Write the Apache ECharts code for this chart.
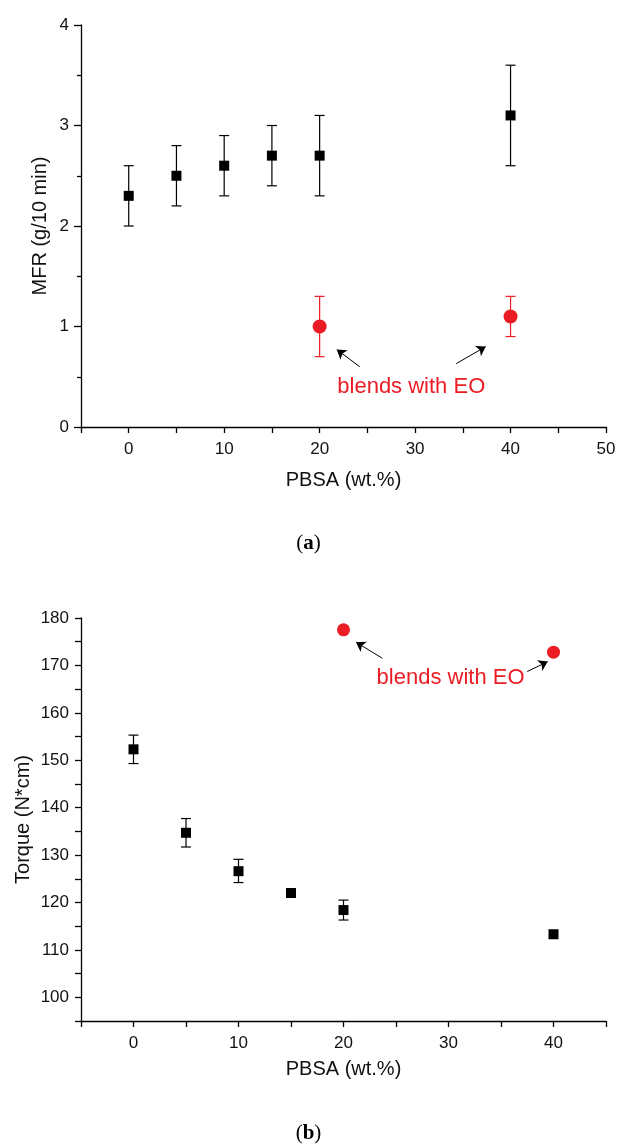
<!DOCTYPE html>
<html>
<head>
<meta charset="utf-8">
<script src="https://cdn.jsdelivr.net/npm/echarts@6/dist/echarts.min.js"></script>
<style>
html, body { margin: 0; padding: 0; background: #fff; }
#main { width: 617px; height: 1145px; }
</style>
</head>
<body>
<div id="main"></div>
<script>
// (a) MFR vs PBSA content
var mfrX = [0, 5, 10, 15, 20, 40];
var mfrY = [2.3, 2.5, 2.6, 2.7, 2.7, 3.1];
var mfrLow = [2.0, 2.2, 2.3, 2.4, 2.3, 2.6];
var mfrHigh = [2.6, 2.8, 2.9, 3.0, 3.1, 3.6];
var mfrEoX = [20, 40];
var mfrEoY = [1.0, 1.1];
var mfrEoLow = [0.7, 0.9];
var mfrEoHigh = [1.3, 1.3];

// (b) torque vs PBSA content
var tqX = [0, 5, 10, 15, 20, 40];
var tqY = [152.3, 134.7, 126.6, 122.0, 118.4, 113.3];
var tqLow = [149.3, 131.7, 124.2, 122.0, 116.3, 113.3];
var tqHigh = [155.3, 137.7, 129.1, 122.0, 120.5, 113.3];
var tqEoX = [20, 40];
var tqEoY = [177.5, 172.8];

// annotations (data coords)
var noteText = 'blends with EO';
var mfrNote = [29.6, 0.4];
var mfrArrows = [[[24.2, 0.60], [21.8, 0.77]], [[34.3, 0.63], [37.4, 0.80]]];
var tqNote = [30.2, 167.4];
var tqArrows = [[[23.7, 171.5], [21.2, 174.9]], [[37.5, 168.7], [39.45, 170.8]]];

var RED = '#ec1c24';
var FONT = 'Liberation Sans, Arial, sans-serif';

function pairs(xs, ys) {
    return xs.map(function(x, i) { return [x, ys[i]]; });
}

function errorBars(xs, lo, hi, color, idx) {
    var data = xs.map(function(x, i) { return [x, lo[i], hi[i]]; });
    return {
        type: 'custom',
        xAxisIndex: idx,
        yAxisIndex: idx,
        silent: true,
        z: 1,
        encode: { x: 0, y: [1, 2] },
        data: data,
        renderItem: function(params, api) {
            if (api.value(1) === api.value(2)) return;
            var x = api.value(0);
            var a = api.coord([x, api.value(1)]);
            var b = api.coord([x, api.value(2)]);
            var w = 5;
            var st = { stroke: color, lineWidth: 1.2 };
            return {
                type: 'group',
                children: [
                    { type: 'line', shape: { x1: a[0], y1: a[1], x2: b[0], y2: b[1] }, style: st },
                    { type: 'line', shape: { x1: a[0] - w, y1: a[1], x2: a[0] + w, y2: a[1] }, style: st },
                    { type: 'line', shape: { x1: b[0] - w, y1: b[1], x2: b[0] + w, y2: b[1] }, style: st }
                ]
            };
        }
    };
}

function arrows(list) {
    return {
        silent: true,
        animation: false,
        symbol: ['none', 'arrow'],
        symbolSize: 9,
        label: { show: false },
        emphasis: { disabled: true },
        lineStyle: { color: '#000', width: 1, type: 'solid', opacity: 1 },
        itemStyle: { color: '#000' },
        data: list.map(function(seg) {
            return [{ coord: seg[0] }, { coord: seg[1] }];
        })
    };
}

function note(pos) {
    return {
        silent: true,
        animation: false,
        symbol: 'circle',
        symbolSize: 0,
        label: {
            show: true,
            position: 'inside',
            formatter: noteText,
            color: RED,
            fontSize: 22,
            fontFamily: FONT
        },
        data: [{ coord: pos }]
    };
}

function xAxis(idx, max, gap) {
    return {
        gridIndex: idx,
        type: 'value',
        min: -5,
        max: max,
        interval: 5,
        name: 'PBSA (wt.%)',
        nameLocation: 'middle',
        nameGap: gap,
        nameMoveOverlap: false,
        nameTextStyle: { color: '#111', fontSize: 20, fontFamily: FONT },
        axisLine: { show: true, onZero: false, lineStyle: { color: '#000', width: 1.3 } },
        axisTick: { show: true, length: 6, lineStyle: { color: '#000', width: 1.3 } },
        axisLabel: {
            color: '#111', fontSize: 17, fontFamily: FONT, margin: 14,
            formatter: function(v) { return v % 10 === 0 ? String(v) : ''; }
        },
        splitLine: { show: false }
    };
}

function caption(letter, top) {
    return {
        type: 'text', left: 'center', top: top,
        style: {
            text: '{n|(}{b|' + letter + '}{n|)}',
            rich: {
                n: { fontFamily: 'Liberation Serif, serif', fontSize: 21, fill: '#000' },
                b: { fontFamily: 'Liberation Serif, serif', fontSize: 21, fontWeight: 'bold', fill: '#000' }
            }
        }
    };
}

var chart = echarts.init(document.getElementById('main'));
chart.setOption({
    animation: false,
    backgroundColor: '#fff',
    textStyle: { fontFamily: FONT },
    grid: [
        { left: 81, right: 11, top: 25, height: 402, outerBoundsMode: 'none' },
        { left: 81, right: 11, top: 618, height: 403, outerBoundsMode: 'none' }
    ],
    xAxis: [xAxis(0, 50, 43), xAxis(1, 45, 38)],
    yAxis: [
        {
            gridIndex: 0,
            type: 'value',
            min: 0,
            max: 4,
            interval: 1,
            name: 'MFR (g/10 min)',
            nameLocation: 'middle',
            nameGap: 31,
            nameMoveOverlap: false,
            nameTextStyle: { color: '#111', fontSize: 20, fontFamily: FONT },
            axisLine: { show: true, onZero: false, lineStyle: { color: '#000', width: 1.3 } },
            axisTick: { show: true, length: 7, lineStyle: { color: '#000', width: 1.3 } },
            minorTick: { show: true, splitNumber: 2, length: 4, lineStyle: { color: '#000', width: 1.3 } },
            axisLabel: { color: '#111', fontSize: 17, fontFamily: FONT, margin: 12 },
            splitLine: { show: false },
            minorSplitLine: { show: false }
        },
        {
            gridIndex: 1,
            type: 'value',
            min: 95,
            max: 180,
            interval: 5,
            name: 'Torque (N*cm)',
            nameLocation: 'middle',
            nameGap: 48,
            nameMoveOverlap: false,
            nameTextStyle: { color: '#111', fontSize: 20, fontFamily: FONT },
            axisLine: { show: true, onZero: false, lineStyle: { color: '#000', width: 1.3 } },
            axisTick: { show: true, length: 6, lineStyle: { color: '#000', width: 1.3 } },
            axisLabel: {
                color: '#111', fontSize: 17, fontFamily: FONT, margin: 12,
                formatter: function(v) { return v % 10 === 0 ? String(v) : ''; }
            },
            splitLine: { show: false }
        }
    ],
    graphic: [caption('a', 533), caption('b', 1123)],
    series: [
        errorBars(mfrX, mfrLow, mfrHigh, '#000', 0),
        errorBars(mfrEoX, mfrEoLow, mfrEoHigh, RED, 0),
        {
            type: 'scatter', xAxisIndex: 0, yAxisIndex: 0, z: 3,
            symbol: 'rect', symbolSize: 10,
            itemStyle: { color: '#000', opacity: 1 },
            data: pairs(mfrX, mfrY)
        },
        {
            type: 'scatter', xAxisIndex: 0, yAxisIndex: 0, z: 3,
            symbol: 'circle', symbolSize: 14,
            itemStyle: { color: RED, opacity: 1 },
            data: pairs(mfrEoX, mfrEoY),
            markLine: arrows(mfrArrows),
            markPoint: note(mfrNote)
        },
        errorBars(tqX, tqLow, tqHigh, '#000', 1),
        {
            type: 'scatter', xAxisIndex: 1, yAxisIndex: 1, z: 3,
            symbol: 'rect', symbolSize: 10,
            itemStyle: { color: '#000', opacity: 1 },
            data: pairs(tqX, tqY)
        },
        {
            type: 'scatter', xAxisIndex: 1, yAxisIndex: 1, z: 3,
            symbol: 'circle', symbolSize: 13,
            itemStyle: { color: RED, opacity: 1 },
            data: pairs(tqEoX, tqEoY),
            markLine: arrows(tqArrows),
            markPoint: note(tqNote)
        }
    ]
});
</script>
</body>
</html>
